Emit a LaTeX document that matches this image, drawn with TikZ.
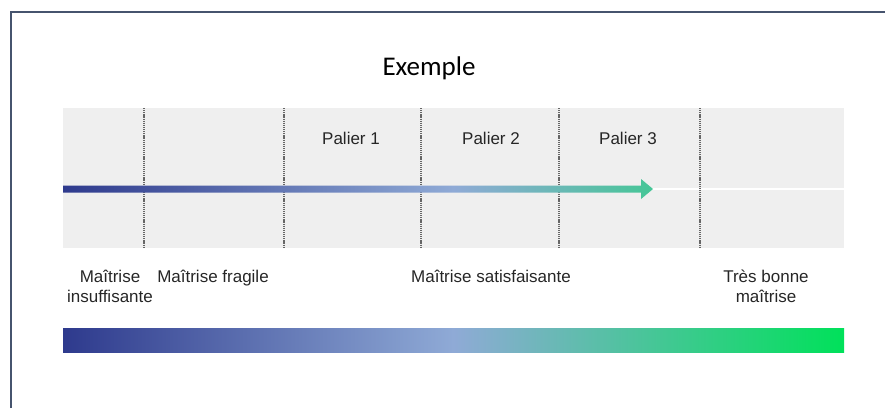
\documentclass[tikz,border=0pt]{standalone}
\usepackage{fontspec}
\setmainfont{Liberation Sans}
\newfontfamily\titlefont{Carlito}
\begin{document}
\begin{tikzpicture}[x=1pt,y=-1pt,
  lbl/.style={font=\fontsize{17}{20}\selectfont, text=black!85, align=center, inner sep=0pt},
  sep/.style={draw=black!60, line width=1.1pt, dash pattern=on 1.2pt off 0.9pt},
  grad/.style={left color=c1, right color=c3, middle color=c2}]
\definecolor{c1}{HTML}{2E3A8D}
\definecolor{c2}{HTML}{8FAAD6}
\definecolor{c3}{HTML}{00E15A}
\definecolor{band}{HTML}{EFEFEF}
\definecolor{frame}{HTML}{46546E}
\useasboundingbox (0,0) rectangle (885,408);
% frame
\draw[frame, line width=2pt] (10.5,408) -- (10.5,11.5) -- (885,11.5);
% title
\node[font=\titlefont\fontsize{27}{30}\selectfont, inner sep=0pt] (title) at (429,68) {Exemple};
% band
\fill[band] (63,108) rectangle (844,248);
\draw[white, line width=2.5pt] (63,189) -- (844,189);
% separators
\foreach \x/\n in {144/s1,284/s2,421/s3,559/s4,700/s5}{
  \coordinate (\n t) at (\x,108);
  \coordinate (\n b) at (\x,248);
  \draw[sep] (\n t) -- (\n b);
}
% arrow
\coordinate (astart) at (63,189);
\coordinate (aend) at (653,189);
\begin{scope}
  \clip (63,185.5) -- (641,185.5) -- (641,179) -- (aend) -- (641,199) -- (641,192.5) -- (63,192.5) -- cycle;
  \shade[grad] (63,178) rectangle (844,200);
\end{scope}
% paliers
\node[lbl] (p1) at (351,138) {Palier 1};
\node[lbl] (p2) at (491,138) {Palier 2};
\node[lbl] (p3) at (628,138) {Palier 3};
% labels
\node[lbl, anchor=north] (l1) at (110,270) {Maîtrise\\insuffisante};
\node[lbl, anchor=north] (l2) at (213,270) {Maîtrise fragile};
\node[lbl, anchor=north] (l3) at (491,270) {Maîtrise satisfaisante};
\node[lbl, anchor=north] (l4) at (766,270) {Très bonne\\maîtrise};
% bottom bar
\shade[grad] (63,328) rectangle (844,352);
\end{tikzpicture}
\end{document}
